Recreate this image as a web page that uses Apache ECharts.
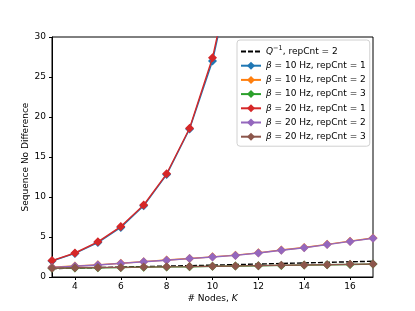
<!DOCTYPE html>
<html>
<head>
<meta charset="utf-8">
<script src="https://cdn.jsdelivr.net/npm/echarts@6/dist/echarts.min.js"></script>
<style>html,body{margin:0;padding:0;background:#fff}#c{width:415px;height:311px}</style>
</head>
<body>
<div id="c"></div>
<script>
var nodes = [3,4,5,6,7,8,9,10,11,12,13,14,15,16,17];
var qInv   = [1.05,1.12,1.18,1.24,1.30,1.36,1.42,1.48,1.55,1.62,1.69,1.76,1.83,1.90,1.97];
var b10r1  = [2.0,2.95,4.3,6.2,8.9,12.8,18.5,27.0,40.0,58.0,85.0,124.0,180.0,262.0,380.0];
var b10r2  = [1.22,1.37,1.52,1.72,1.92,2.12,2.32,2.52,2.73,3.02,3.37,3.68,4.08,4.48,4.88];
var b10r3  = [1.08,1.13,1.16,1.19,1.23,1.26,1.29,1.33,1.37,1.41,1.45,1.49,1.53,1.57,1.61];
var b20r1  = [2.05,3.0,4.4,6.3,9.0,12.9,18.6,27.4,40.5,59.0,86.0,126.0,183.0,266.0,386.0];
var b20r2  = [1.2,1.35,1.5,1.7,1.9,2.1,2.3,2.5,2.7,3.0,3.35,3.65,4.05,4.45,4.85];
var b20r3  = [1.1,1.15,1.18,1.2,1.24,1.27,1.3,1.35,1.38,1.42,1.46,1.5,1.54,1.58,1.62];
var xTicks = [4,6,8,10,12,14,16];
var yTicks = [0,5,10,15,20,25,30];

var names = ['{i|Q}{sup|−1}, repCnt = 2',
  '{i|β} = 10 Hz, repCnt = 1','{i|β} = 10 Hz, repCnt = 2','{i|β} = 10 Hz, repCnt = 3',
  '{i|β} = 20 Hz, repCnt = 1','{i|β} = 20 Hz, repCnt = 2','{i|β} = 20 Hz, repCnt = 3'];
var keys = ['q','b10r1','b10r2','b10r3','b20r1','b20r2','b20r3'];
var datas = [qInv,b10r1,b10r2,b10r3,b20r1,b20r2,b20r3];
var colors = ['#000000','#1f77b4','#ff7f0e','#2ca02c','#d62728','#9467bd','#8c564b'];
var labelMap = {};
keys.forEach(function(k,i){labelMap[k]=names[i];});
var diamond = 'path://M0,-1L1,0L0,1L-1,0Z';

var series = keys.map(function(k,i){
  var dashed = i===0;
  return {
    name: k,
    type: 'line',
    data: nodes.map(function(n,j){return [n, datas[i][j]];}),
    symbol: dashed ? 'none' : diamond,
    symbolSize: 9,
    showSymbol: !dashed,
    clip: true,
    color: colors[i],
    lineStyle: {width: 1.4, color: colors[i], type: dashed ? [5,2] : 'solid'},
    itemStyle: {color: colors[i]},
    emphasis: {disabled: true},
    animation: false,
    z: 2 + i
  };
});

var legendData = keys.map(function(k,i){
  if (i===0) return {name: k, itemStyle: {opacity: 0}};
  return {name: k};
});

var font = 'DejaVu Sans';
var chart = echarts.init(document.getElementById('c'), null, {renderer:'canvas'});
chart.setOption({
  animation: false,
  textStyle: {fontFamily: font},
  grid: {left: 52, right: 42, top: 37, bottom: 34, show: true, borderColor: '#000', borderWidth: 1, backgroundColor: 'transparent'},
  xAxis: {
    type: 'value', min: 3, max: 17,
    name: '# Nodes, {i|K}', nameLocation: 'middle', nameGap: 17, nameMoveOverlap: false,
    nameTextStyle: {fontSize: 9, color: '#000', fontFamily: font, rich: {i: {fontStyle: 'italic', fontSize: 9, fontFamily: font}}},
    axisLine: {show: true, lineStyle: {color: '#000', width: 1}},
    axisTick: {show: true, inside: false, length: 3, customValues: xTicks, lineStyle: {color: '#000'}},
    axisLabel: {customValues: xTicks, fontSize: 9, color: '#000', margin: 5, fontFamily: font},
    splitLine: {show: false}
  },
  yAxis: {
    type: 'value', min: 0, max: 30, interval: 5,
    name: 'Sequence No Difference', nameLocation: 'middle', nameGap: 22, nameRotate: 90, nameMoveOverlap: false,
    nameTextStyle: {fontSize: 9, color: '#000', fontFamily: font},
    axisLine: {show: true, lineStyle: {color: '#000', width: 1}},
    axisTick: {show: true, length: 3, lineStyle: {color: '#000'}},
    axisLabel: {fontSize: 9, color: '#000', margin: 6, fontFamily: font},
    splitLine: {show: false}
  },
  legend: {
    orient: 'vertical', left: 237, top: 40,
    data: legendData,
    formatter: function(n){return labelMap[n];},
    itemWidth: 20, itemHeight: 10, itemGap: 5.2,
    padding: [5, 4, 5, 3],
    backgroundColor: 'rgba(255,255,255,0.85)',
    borderColor: '#d0d0d0', borderWidth: 1, borderRadius: 3,
    textStyle: {fontSize: 9, color: '#000', fontFamily: font,
      rich: {i: {fontStyle: 'italic', fontSize: 9, fontFamily: font}, sup: {fontSize: 6.5, fontFamily: font, padding: [0,0,6,0]}}},
    selectedMode: false
  },
  series: series
});
</script>
</body>
</html>
